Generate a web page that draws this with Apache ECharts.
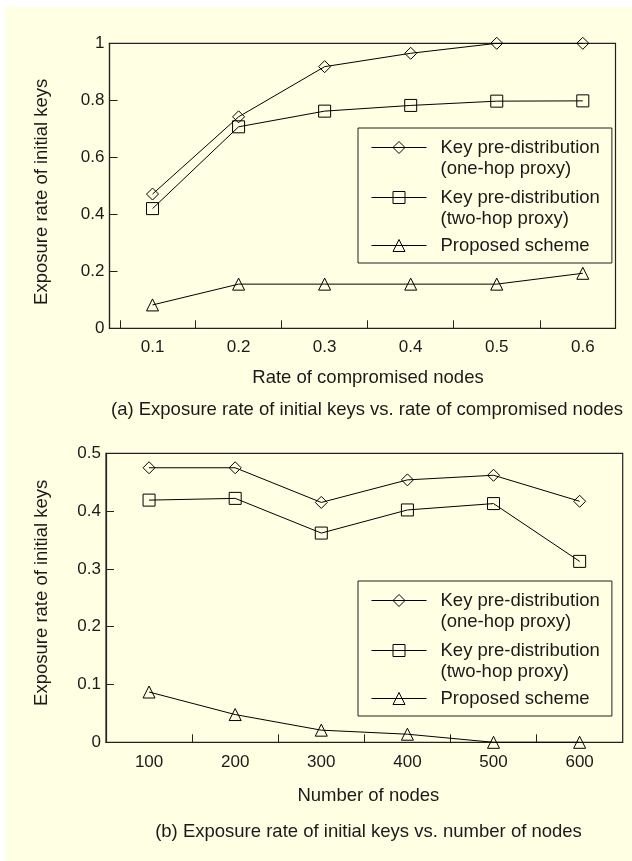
<!DOCTYPE html>
<html><head><meta charset="utf-8">
<script src="https://cdn.jsdelivr.net/npm/echarts@6/dist/echarts.min.js"></script>
<style>
html,body{margin:0;padding:0;background:#fff;}
#bg{position:absolute;left:6px;top:7px;width:626px;height:854px;background:#FFFFE3;}
#chart{position:absolute;left:0;top:0;width:632px;height:861px;}
</style></head><body>
<div id="bg"></div><div id="chart"></div>
<script>
// ---- data ----
const rateX = [0.1, 0.2, 0.3, 0.4, 0.5, 0.6];
const rateOneHop = [0.471, 0.742, 0.918, 0.965, 1.0, 1.0];
const rateTwoHop = [0.42, 0.707, 0.762, 0.782, 0.797, 0.798];
const rateProposed = [0.082, 0.155, 0.155, 0.155, 0.155, 0.193];
const nodesX = [100, 200, 300, 400, 500, 600];
const nodesOneHop = [0.475, 0.475, 0.415, 0.454, 0.462, 0.417];
const nodesTwoHop = [0.419, 0.422, 0.362, 0.402, 0.413, 0.313];
const nodesProposed = [0.087, 0.048, 0.021, 0.014, 0, 0];
const rateXLabels = [0.1, 0.2, 0.3, 0.4, 0.5, 0.6];
const rateXTickMarks = [0.062, 0.15, 0.25, 0.35, 0.45, 0.55];
const nodesXLabels = [100, 200, 300, 400, 500, 600];
const nodesXTickMarks = [150, 250, 350, 450, 550];
const seriesNames = ['Key pre-distribution\n(one-hop proxy)', 'Key pre-distribution\n(two-hop proxy)', 'Proposed scheme'];
const seriesSymbols = ['diamond', 'rect', 'triangle'];
const yName = 'Exposure rate of initial keys';
const xNames = ['Rate of compromised nodes', 'Number of nodes'];
const captions = ['(a) Exposure rate of initial keys vs. rate of compromised nodes',
                  '(b) Exposure rate of initial keys vs. number of nodes'];

// ---- styling ----
const FONT = "'Liberation Sans', Arial, Helvetica, sans-serif";
const INK = '#1a1a1a';
const zip = (xs, ys) => xs.map((x, i) => [x, ys[i]]);

function mkSeries(idx, xs, ys, k) {
  return {
    type: 'line', name: seriesNames[k], xAxisIndex: idx, yAxisIndex: idx,
    data: zip(xs, ys), symbol: seriesSymbols[k], symbolSize: 12,
    lineStyle: { color: '#000', width: 1 },
    itemStyle: { color: 'transparent', borderColor: '#000', borderWidth: 1 },
    emphasis: { disabled: true }, z: 3
  };
}

function legendFmt(name) {
  const parts = name.split('\n');
  if (parts.length > 1) return '{s|}\n' + parts.map(p => '{t|' + p + '}').join('\n');
  return '{t|' + name + '}';
}
function mkLegend(left, top) {
  return {
    data: seriesNames, orient: 'vertical', left: left, top: top,
    selectedMode: false, itemWidth: 55, itemHeight: 15, itemGap: 8,
    padding: [8, 12, 8, 13], borderColor: '#222', borderWidth: 1,
    backgroundColor: 'transparent',
    lineStyle: { width: 1, color: '#000' },
    itemStyle: { color: 'transparent', borderColor: '#000', borderWidth: 1 },
    formatter: legendFmt,
    textStyle: {
      fontFamily: FONT, fontSize: 18.5, color: INK, padding: [0, 0, 0, 9],
      rich: {
        s: { fontFamily: FONT, fontSize: 1, lineHeight: 21, verticalAlign: 'bottom' },
        t: { fontFamily: FONT, fontSize: 18.5, lineHeight: 21, color: INK }
      }
    }
  };
}

const axisLineStyle = { lineStyle: { color: '#222', width: 1.2 } };
const tickLabel = { fontFamily: FONT, fontSize: 17, color: INK };
const nameStyle = { fontFamily: FONT, fontSize: 18.5, color: INK };

const option = {
  animation: false,
  backgroundColor: 'transparent',
  grid: [
    { left: 109.5, top: 43.3, right: 16.5, bottom: 532.7, show: true, borderColor: '#222', borderWidth: 1.2, outerBoundsMode: 'none' },
    { left: 106, top: 453.3, right: 9.3, bottom: 118.7, show: true, borderColor: '#222', borderWidth: 1.2, outerBoundsMode: 'none' }
  ],
  xAxis: [
    { type: 'value', gridIndex: 0, min: 0.05, max: 0.638,
      axisLine: axisLineStyle, splitLine: { show: false },
      axisTick: { inside: true, length: 8, customValues: rateXTickMarks, lineStyle: { color: '#222' } },
      axisLabel: Object.assign({ margin: 11, customValues: rateXLabels }, tickLabel),
      name: xNames[0], nameLocation: 'middle', nameGap: 40,
      nameTextStyle: Object.assign({ padding: [0, 0, 0, 11] }, nameStyle) },
    { type: 'value', gridIndex: 1, min: 50, max: 650,
      axisLine: axisLineStyle, splitLine: { show: false },
      axisTick: { inside: true, length: 8, customValues: nodesXTickMarks, lineStyle: { color: '#222' } },
      axisLabel: Object.assign({ margin: 12, customValues: nodesXLabels }, tickLabel),
      name: xNames[1], nameLocation: 'middle', nameGap: 44,
      nameTextStyle: Object.assign({ padding: [0, 0, 0, 8] }, nameStyle) }
  ],
  yAxis: [
    { type: 'value', gridIndex: 0, min: 0, max: 1, interval: 0.2,
      axisLine: Object.assign({ show: true }, axisLineStyle), splitLine: { show: false },
      axisTick: { show: true, inside: true, length: 8, lineStyle: { color: '#222' } },
      axisLabel: Object.assign({ margin: 5 }, tickLabel),
      name: yName, nameLocation: 'middle', nameGap: 58,
      nameTextStyle: Object.assign({ padding: [0, 12, 0, 0] }, nameStyle) },
    { type: 'value', gridIndex: 1, min: 0, max: 0.5, interval: 0.1,
      axisLine: Object.assign({ show: true }, axisLineStyle), splitLine: { show: false },
      axisTick: { show: true, inside: true, length: 8, lineStyle: { color: '#222' } },
      axisLabel: Object.assign({ margin: 5 }, tickLabel),
      name: yName, nameLocation: 'middle', nameGap: 55,
      nameTextStyle: Object.assign({ padding: [0, 0, 0, 10] }, nameStyle) }
  ],
  legend: [mkLegend(358, 128), mkLegend(358, 581)],
  series: [
    mkSeries(0, rateX, rateOneHop, 0),
    mkSeries(0, rateX, rateTwoHop, 1),
    mkSeries(0, rateX, rateProposed, 2),
    mkSeries(1, nodesX, nodesOneHop, 0),
    mkSeries(1, nodesX, nodesTwoHop, 1),
    mkSeries(1, nodesX, nodesProposed, 2)
  ],
  graphic: [
    { type: 'text', x: 367, y: 410, style: { text: captions[0], font: '18.5px ' + FONT, fill: INK, align: 'center', verticalAlign: 'middle' } },
    { type: 'text', x: 368.5, y: 832, style: { text: captions[1], font: '18.5px ' + FONT, fill: INK, align: 'center', verticalAlign: 'middle' } }
  ]
};

const chart = echarts.init(document.getElementById('chart'), null, { renderer: 'canvas' });
chart.setOption(option);
</script>
</body></html>
